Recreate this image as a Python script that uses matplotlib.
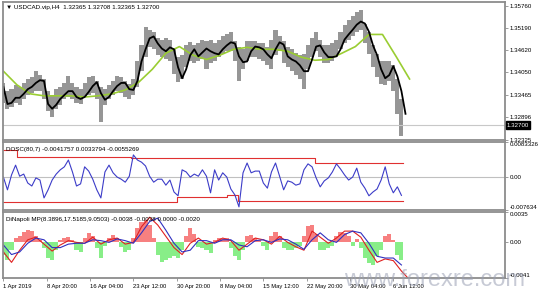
import numpy as np
import matplotlib.pyplot as plt
from matplotlib.transforms import blended_transform_factory

plt.rcParams['font.family'] = ['Liberation Sans', 'DejaVu Sans']

# USDCAD H4 - une valeur toutes les 3 bougies
hi = [1.3378, 1.3357, 1.3362, 1.3373, 1.3368, 1.3378, 1.3388, 1.3393, 1.3408, 1.3398,
      1.3388, 1.3357, 1.3347, 1.3362, 1.3368, 1.3378, 1.3395, 1.3378, 1.3368, 1.3362,
      1.3378, 1.3393, 1.3395, 1.3383, 1.3368, 1.3362, 1.3373, 1.3383, 1.3395, 1.3393,
      1.3383, 1.3375, 1.3388, 1.3433, 1.3476, 1.3522, 1.3514, 1.3509, 1.3494, 1.3489,
      1.3494, 1.3489, 1.3464, 1.3444, 1.3449, 1.3476, 1.3482, 1.3476, 1.3479, 1.3489,
      1.3484, 1.3489, 1.3479, 1.3489, 1.3499, 1.3504, 1.3507, 1.3484, 1.3469, 1.3464,
      1.3484, 1.3484, 1.3484, 1.3479, 1.3479, 1.3469, 1.3489, 1.3514, 1.3499, 1.3484,
      1.3469, 1.3464, 1.3454, 1.3449, 1.3451, 1.3476, 1.3494, 1.3509, 1.3489, 1.3474,
      1.3474, 1.3479, 1.3489, 1.3509, 1.3527, 1.3540, 1.3550, 1.3560, 1.3565, 1.3530,
      1.3509, 1.3476, 1.3451, 1.3433, 1.3433, 1.3433, 1.3423, 1.3388, 1.3337]
lo = [1.3327, 1.3312, 1.3317, 1.3327, 1.3322, 1.3337, 1.3347, 1.3352, 1.3357, 1.3357,
      1.3337, 1.3307, 1.3292, 1.3312, 1.3322, 1.3337, 1.3342, 1.3337, 1.3327, 1.3324,
      1.3342, 1.3347, 1.3352, 1.3337, 1.3279, 1.3322, 1.3337, 1.3347, 1.3357, 1.3352,
      1.3342, 1.3337, 1.3347, 1.3368, 1.3408, 1.3444, 1.3469, 1.3464, 1.3449, 1.3444,
      1.3438, 1.3433, 1.3400, 1.3380, 1.3388, 1.3418, 1.3433, 1.3428, 1.3433, 1.3438,
      1.3413, 1.3428, 1.3433, 1.3444, 1.3451, 1.3459, 1.3459, 1.3433, 1.3383, 1.3413,
      1.3433, 1.3444, 1.3444, 1.3438, 1.3433, 1.3423, 1.3413, 1.3449, 1.3459, 1.3428,
      1.3418, 1.3408, 1.3398, 1.3388, 1.3362, 1.3413, 1.3444, 1.3459, 1.3444, 1.3428,
      1.3428, 1.3433, 1.3444, 1.3464, 1.3479, 1.3489, 1.3499, 1.3509, 1.3514, 1.3479,
      1.3451, 1.3418, 1.3393, 1.3375, 1.3373, 1.3383, 1.3357, 1.3299, 1.3243]
ma_fast = [1.3368, 1.3324, 1.3327, 1.3340, 1.3340, 1.3350, 1.3362, 1.3368, 1.3378, 1.3385,
           1.3383, 1.3324, 1.3312, 1.3322, 1.3337, 1.3347, 1.3357, 1.3357, 1.3342, 1.3337,
           1.3342, 1.3355, 1.3370, 1.3380, 1.3352, 1.3335, 1.3342, 1.3357, 1.3370, 1.3378,
           1.3378, 1.3362, 1.3360, 1.3383, 1.3433, 1.3464, 1.3492, 1.3497, 1.3479, 1.3466,
           1.3459, 1.3469, 1.3464, 1.3418, 1.3390, 1.3413, 1.3449, 1.3464, 1.3446, 1.3456,
           1.3466, 1.3459, 1.3454, 1.3451, 1.3464, 1.3474, 1.3482, 1.3479, 1.3446, 1.3431,
           1.3433, 1.3459, 1.3471, 1.3469, 1.3464, 1.3451, 1.3441, 1.3464, 1.3482, 1.3476,
           1.3446, 1.3438, 1.3433, 1.3423, 1.3408, 1.3408, 1.3438, 1.3471, 1.3474, 1.3456,
           1.3444, 1.3444, 1.3446, 1.3464, 1.3489, 1.3502, 1.3514, 1.3527, 1.3535, 1.3530,
           1.3509, 1.3474, 1.3449, 1.3413, 1.3390, 1.3398, 1.3421, 1.3395, 1.3357, 1.3299]
# moyenne lente, une valeur toutes les 10 bougies
ma_slow = [1.3408, 1.3373, 1.3350, 1.3345, 1.3345, 1.3345, 1.3342, 1.3345, 1.3350, 1.3360,
           1.3380, 1.3413, 1.3454, 1.3471, 1.3449, 1.3438, 1.3449, 1.3464, 1.3469, 1.3464,
           1.3464, 1.3459, 1.3444, 1.3436, 1.3438, 1.3454, 1.3471, 1.3502, 1.3502, 1.3446,
           1.3388]
last_price = 1.32700
price_ticks = [1.35760, 1.35190, 1.34620, 1.34050, 1.33465, 1.32896, 1.32325]

# DOSC(80,7)
dosc = [0.0001, -0.0029, 0.0006, 0.0029, 0.0003, 0.0008, -0.0013, -0.0020, -0.0001, -0.0006,
        -0.0048, -0.0029, -0.0006, 0.0008, 0.0018, 0.0025, 0.0041, 0.0013, -0.0020, -0.0015,
        0.0025, 0.0015, -0.0004, -0.0029, -0.0048, 0.0013, 0.0029, 0.0011, 0.0001, -0.0004,
        -0.0011, 0.0003, 0.0053, 0.0041, 0.0036, 0.0027, 0.0003, -0.0011, -0.0004, -0.0004,
        -0.0018, -0.0006, -0.0034, -0.0043, 0.0018, 0.0013, 0.0001, 0.0008, 0.0003, 0.0018,
        0.0003, -0.0036, 0.0018, -0.0006, 0.0011, 0.0001, -0.0027, -0.0041, -0.0069, 0.0011,
        0.0034, 0.0011, 0.0015, 0.0015, -0.0013, -0.0025, 0.0013, 0.0034, 0.0003, -0.0029,
        -0.0008, -0.0011, -0.0018, -0.0015, 0.0018, 0.0032, 0.0025, -0.0001, -0.0022, -0.0008,
        -0.0001, 0.0013, 0.0032, 0.0020, 0.0006, -0.0006, 0.0001, 0.0022, -0.0011, -0.0025,
        -0.0043, -0.0034, -0.0027, -0.0006, 0.0025, -0.0015, -0.0036, -0.0022, -0.0042]
band_up_bars = [0, 10, 94, 230, 295]
band_up = [0.0065, 0.0048, 0.0046, 0.0034, 0.0034]
band_dn_bars = [0, 128, 165, 173, 295]
band_dn = [-0.0057, -0.0046, -0.0041, -0.0055, -0.0055]

# DiNapoli MP
hist = [-0.0015, -0.0020, -0.0009, 0.0005, 0.0007, 0.0012, 0.0014, 0.0013, 0.0007, 0.0003,
        -0.0006, -0.0018, -0.0020, -0.0009, 0.0003, 0.0005, 0.0006, 0.0003, -0.0009, -0.0011,
        0.0005, 0.0011, 0.0007, -0.0006, -0.0018, -0.0004, 0.0005, 0.0009, 0.0005, -0.0005,
        -0.0011, -0.0009, 0.0005, 0.0017, 0.0023, 0.0026, 0.0020, 0.0005, -0.0015, -0.0023,
        -0.0020, -0.0018, -0.0016, -0.0018, -0.0009, 0.0007, 0.0017, 0.0010, -0.0005, -0.0006,
        -0.0009, -0.0012, 0.0003, 0.0005, 0.0004, 0.0005, -0.0006, -0.0016, -0.0020, -0.0009,
        0.0007, 0.0009, 0.0005, 0.0003, -0.0004, -0.0009, 0.0007, 0.0012, 0.0007, -0.0006,
        -0.0009, -0.0009, -0.0006, -0.0004, 0.0007, 0.0019, 0.0020, 0.0010, -0.0009, -0.0009,
        -0.0006, -0.0004, 0.0007, 0.0012, 0.0011, 0.0007, -0.0004, 0.0004, -0.0006, -0.0018,
        -0.0024, -0.0026, -0.0016, -0.0009, 0.0007, 0.0010, 0.0003, -0.0015, -0.0020]
# lignes, une valeur toutes les 6 bougies
mp_red = [-0.0011, -0.0023, -0.0009, 0.0003, 0.0006, -0.0002, -0.0010, -0.0003, 0.0002, 0.0000,
          -0.0001, 0.0006, -0.0002, 0.0003, 0.0005, -0.0002, 0.0000, 0.0018, 0.0029, 0.0020,
          0.0007, -0.0006, -0.0014, -0.0001, 0.0005, -0.0002, 0.0000, 0.0005, 0.0002, -0.0009,
          -0.0002, 0.0005, 0.0003, -0.0002, 0.0007, 0.0000, -0.0005, -0.0009, 0.0013, 0.0006,
          -0.0001, 0.0005, 0.0013, 0.0013, 0.0006, -0.0009, -0.0023, -0.0019, -0.0021, -0.0033,
          -0.0043]
mp_blue = [-0.0003, -0.0014, -0.0011, -0.0001, 0.0005, 0.0003, -0.0006, -0.0006, -0.0002, -0.0001,
           -0.0001, 0.0003, 0.0002, 0.0000, 0.0004, 0.0002, -0.0001, 0.0011, 0.0024, 0.0028,
           0.0014, -0.0001, -0.0011, -0.0009, 0.0002, 0.0002, -0.0001, 0.0003, 0.0003, -0.0003,
           -0.0005, 0.0002, 0.0003, 0.0000, 0.0004, 0.0003, -0.0002, -0.0008, 0.0003, 0.0011,
           0.0003, 0.0000, 0.0009, 0.0013, 0.0011, -0.0001, -0.0016, -0.0018, -0.0018, -0.0026]

time_bars = [0, 32, 64, 96, 128, 160, 192, 224, 256, 288]
time_labels = ['1 Apr 2019', '8 Apr 20:00', '16 Apr 04:00', '23 Apr 12:00', '30 Apr 20:00',
               '8 May 04:00', '15 May 12:00', '22 May 20:00', '30 May 04:00', '6 Jun 12:00']

W, H = 538, 295
fig = plt.figure(figsize=(W / 100, H / 100), dpi=100)
fig.patch.set_facecolor('white')


def panel(top, bottom):
    ax = fig.add_axes([3 / W, 1 - bottom / H, 502 / W, (bottom - top) / H])
    ax.set_xlim(-0.3, 370.5)
    for s in ax.spines.values():
        s.set_color('#8c8c8c')
        s.set_linewidth(1.3)
    ax.yaxis.tick_right()
    ax.tick_params(axis='y', length=2, width=0.6, colors='#8c8c8c', labelcolor='black',
                   labelsize=4.4, pad=1.5)
    ax.set_xticks([])
    return ax


ax1 = panel(2, 140)
ax2 = panel(142, 210)
ax3 = panel(212, 278)

# --- panneau principal
x3 = np.arange(len(hi)) * 3
hi_a, lo_a = np.array(hi), np.array(lo)
ax1.bar(x3, hi_a - lo_a, bottom=lo_a, width=3, color='#969696', lw=0)
ax1.axhline(last_price, color='#c8c8c8', lw=0.8)
ax1.plot(np.arange(len(ma_slow)) * 10, ma_slow, color='#9acd32', lw=1.2)
ax1.plot(np.arange(len(ma_fast)) * 3, ma_fast, color='black', lw=1.3)
ax1.set_ylim(1.3232, 1.3585)
ax1.set_yticks(price_ticks)
ax1.set_yticklabels([f'{v:.5f}' for v in price_ticks])
tr = blended_transform_factory(ax1.transAxes, ax1.transData)
ax1.text(1.004, last_price, '1.32700', transform=tr, color='white', fontsize=4.4,
         va='center', ha='left',
         bbox=dict(boxstyle='square,pad=0.2', fc='black', ec='black'))
ax1.text(0.006, 0.975, '\u25bc USDCAD.vip,H4  1.32365 1.32708 1.32365 1.32700',
         transform=ax1.transAxes, fontsize=4.5, va='top', ha='left')

# --- DOSC
ax2.axhline(0, color='#c0c0c0', lw=0.8)
ax2.step(band_up_bars, band_up, where='post', color='#e03030', lw=0.8)
ax2.step(band_dn_bars, band_dn, where='post', color='#e03030', lw=0.8)
ax2.plot(np.arange(len(dosc)) * 3, dosc, color='#3c3cc8', lw=0.8)
ax2.set_ylim(-0.007634, 0.0083326)
ax2.set_yticks([0.0083326, 0.0, -0.007634])
ax2.set_yticklabels(['0.0083326', '0.00', '-0.007634'])
ax2.text(0.006, 0.93, 'DOSC(80,7) -0.0041757 0.0033794 -0.0055269',
         transform=ax2.transAxes, fontsize=4.5, va='top', ha='left')

# --- DiNapoli MP
hist_a = np.array(hist)
cols = np.where(hist_a > 0, '#f78080', '#88ee88')
ax3.bar(x3, hist_a, width=3, color=cols, lw=0)
ax3.plot(np.arange(len(mp_red)) * 6, mp_red, color='#e02020', lw=0.8)
ax3.plot(np.arange(len(mp_blue)) * 6, mp_blue, color='#3030c0', lw=0.8)
ax3.set_ylim(-0.0041, 0.0035)
ax3.set_yticks([0.0035, 0.0, -0.0041])
ax3.set_yticklabels(['0.0035', '0.00', '-0.0041'])
ax3.text(0.006, 0.93, 'DiNapoli MP(8.3896,17.5185,9.0503) -0.0038 -0.0038 0.0000 -0.0020',
         transform=ax3.transAxes, fontsize=4.5, va='top', ha='left')
ax3.set_xticks(time_bars)
ax3.set_xticklabels(time_labels)
ax3.tick_params(axis='x', length=2.5, width=0.6, colors='#8c8c8c', labelcolor='black',
                labelsize=4.2, pad=1.8)
for lbl in ax3.get_xticklabels():
    lbl.set_ha('left')

for ax in (ax2, ax3):
    labels = ax.get_yticklabels()
    labels[0].set_va('top')
    labels[-1].set_va('bottom')

fig.text(344 / W, 1 - 280 / H, 'www.forexre.com', fontsize=17, color='#9aa0b4',
         alpha=0.55, va='center', ha='left')

fig.savefig('out.png', dpi=100)
